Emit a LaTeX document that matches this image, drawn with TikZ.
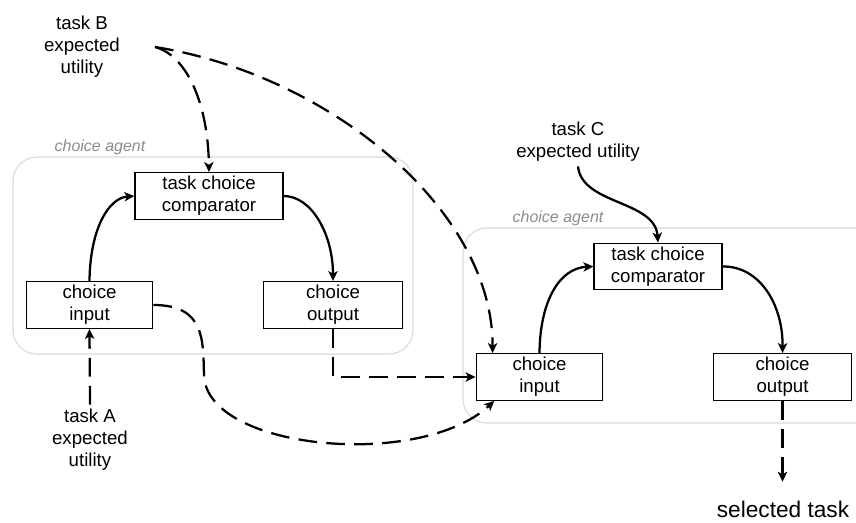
\documentclass[tikz,border=0pt]{standalone}
\usepackage{fontspec}
\setmainfont{Liberation Sans}
\usetikzlibrary{arrows.meta}

\begin{document}
\begin{tikzpicture}[x=0.75pt, y=-0.75pt,
      every node/.style={font=\fontsize{14}{16.5}\selectfont, align=center},
      box/.style={draw, line width=0.9pt, inner sep=0pt, minimum height=35pt},
      agent/.style={draw=black!15, line width=0.8pt, rounded corners=18pt},
      agentlabel/.style={font=\fontsize{12}{14}\selectfont\itshape, text=black!45},
      flow/.style={line width=1.7pt, -{Stealth[length=7.5pt, width=7pt, inset=2pt]}},
      dflow/.style={flow, dash pattern=on 14pt off 7pt}]
    \useasboundingbox (0,0) rectangle (856,523);
    \draw[agent] (13,157) rectangle (413,354);
    \node[agentlabel] (lblA) at (100,147) {choice agent};
    \draw[agent] (463,228) rectangle (900,423);
    \node[agentlabel] (lblB) at (558,218) {choice agent};
    \node[box, minimum width=111pt] (cmpA) at (209,196) {task choice\\comparator};
    \node[box, minimum width=95pt] (inA) at (89.5,305) {choice\\input};
    \node[box, minimum width=104pt] (outA) at (333,305) {choice\\output};
    \node[box, minimum width=96pt] (cmpB) at (658,266.5) {task choice\\comparator};
    \node[box, minimum width=95pt] (inB) at (539.5,377) {choice\\input};
    \node[box, minimum width=103pt] (outB) at (782.5,377) {choice\\output};
    \node (utilA) at (90,440) {task A\\expected\\utility};
    \node (utilB) at (82,47) {task B\\expected\\utility};
    \node (utilC) at (578,142) {task C\\expected utility};
    \node[font=\fontsize{17}{19}\selectfont, inner sep=1pt] (sel) at (783,509) {selected task};
    \coordinate (fromB) at (155,47);
    \draw[flow] (inA.north) .. controls (90,230) and (108,198) .. (cmpA.west);
    \draw[flow] (cmpA.east) .. controls (312,196) and (333,235) .. (outA.north);
    \draw[flow] (inB.north) .. controls (540,300) and (560,268) .. (cmpB.west);
    \draw[flow] (cmpB.east) .. controls (760,266) and (783,305) .. (outB.north);
    \draw[flow] (utilC.south) .. controls (582,205) and (655,200) .. (cmpB.north);
    \draw[dflow] (fromB) .. controls (185,55) and (208,100) .. (cmpA.north);
    \draw[dflow] (fromB) .. controls (330,75) and (493,210) .. ([xshift=12.75pt]inB.north west);
    \draw[dflow] (utilA.north) -- (inA.south);
    \draw[dflow] (inA.east) .. controls (205,305) and (203,340) .. (204,375)
          .. controls (206,450) and (420,470) .. ([xshift=14pt]inB.south west);
    \draw[dflow] (outA.south) |- (inB.west);
    \draw[dflow, shorten >=13pt] (outB.south) -- (sel.north -| outB.south);
\end{tikzpicture}
\end{document}
